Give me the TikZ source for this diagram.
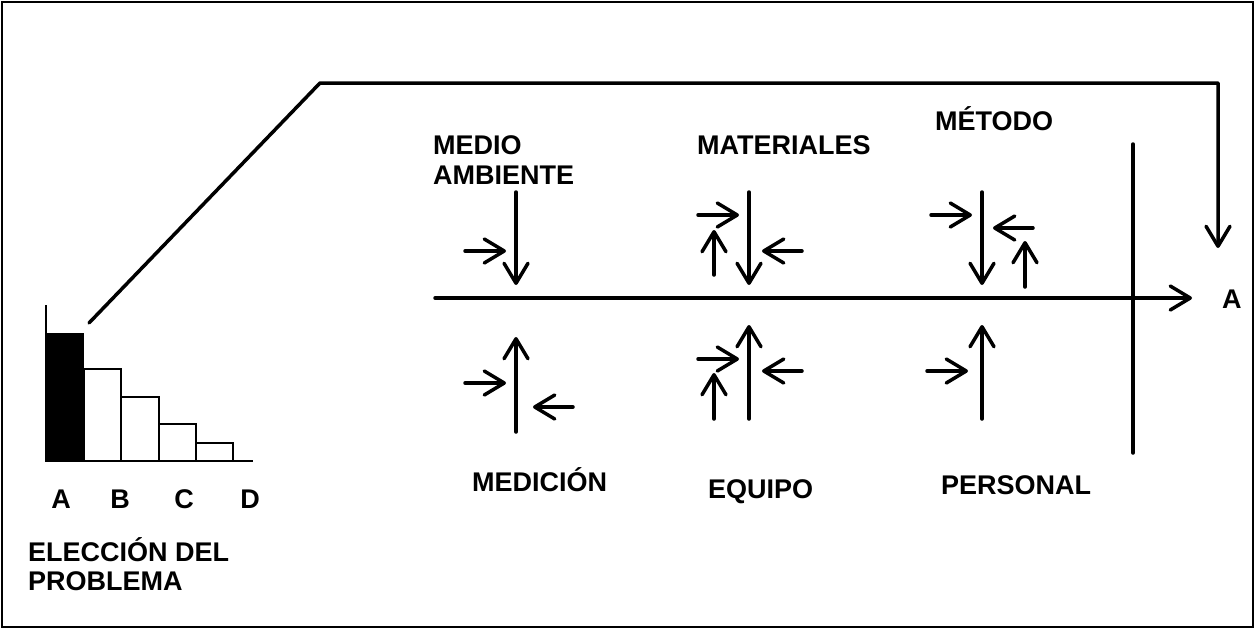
\documentclass[tikz,border=0pt]{standalone}
\usepackage{fontspec}
\setmainfont{Liberation Sans}
\usetikzlibrary{arrows.meta}
\begin{document}
\begin{tikzpicture}[x=1pt,y=-1pt,
  lbl/.style={inner sep=0pt,font=\fontsize{27}{30}\selectfont\bfseries},
  ln/.style={line width=3.5pt,line cap=round},
  arr/.style={ln,-{Straight Barb[length=20pt,width=24pt,round]}},
  bar/.style={line width=2.5pt}]
\useasboundingbox (0,0) rectangle (1257,629);
\draw[line width=1.8pt] (2,2) rectangle (1253,627);
% Pareto chart
\fill[black] (46,333) rectangle (84,461);
\draw[bar] (46,305) -- (46,461) -- (253,461);
\draw[bar] (84,461) |- (121,369) -- (121,461);
\draw[bar] (121,461) |- (159,397) -- (159,461);
\draw[bar] (159,461) |- (196,424) -- (196,461);
\draw[bar] (196,461) |- (233,443) -- (233,461);
\node[lbl,anchor=base] (la) at (61,508) {A};
\node[lbl,anchor=base] (lb) at (120,508) {B};
\node[lbl,anchor=base] (lc) at (184,508) {C};
\node[lbl,anchor=base] (ld) at (250,508) {D};
\node[lbl,anchor=base west] (el1) at (28,561) {ELECCIÓN DEL};
\node[lbl,anchor=base west] (el2) at (28,590) {PROBLEMA};
% feedback path
\coordinate (fb0) at (89,323);
\coordinate (fb1) at (320,83);
\coordinate (fb2) at (1218,83);
\coordinate (fb3) at (1218,248);
\draw[arr,line join=round] (fb0) -- (fb1) -- (fb2) -- (fb3);
% main spine
\coordinate (sp0) at (435,298);
\coordinate (sp1) at (1192,298);
\draw[arr] (sp0) -- (sp1);
\coordinate (vb0) at (1133,144);
\coordinate (vb1) at (1133,453);
\draw[ln] (vb0) -- (vb1);
\node[lbl,anchor=base west] (res) at (1222,308) {A};
% labels
\node[lbl,anchor=base west] (ma1) at (433,154) {MEDIO};
\node[lbl,anchor=base west] (ma2) at (433,184) {AMBIENTE};
\node[lbl,anchor=base west] (mat) at (697,154) {MATERIALES};
\node[lbl,anchor=base west] (met) at (935,130) {MÉTODO};
\node[lbl,anchor=base west] (med) at (472,491) {MEDICIÓN};
\node[lbl,anchor=base west] (equ) at (708,498) {EQUIPO};
\node[lbl,anchor=base west] (per) at (941,494) {PERSONAL};
% medio ambiente
\draw[arr] (516,192) coordinate (a1) -- (516,285) coordinate (a2);
\draw[arr] (465,251) coordinate (a3) -- (506,251) coordinate (a4);
% medicion
\draw[arr] (516,432) coordinate (b1) -- (516,337) coordinate (b2);
\draw[arr] (465,383) coordinate (b3) -- (506,383) coordinate (b4);
\draw[arr] (573,407) coordinate (b5) -- (533,407) coordinate (b6);
% materiales
\draw[arr] (749,192) coordinate (c1) -- (749,285) coordinate (c2);
\draw[arr] (698,215) coordinate (c3) -- (739,215) coordinate (c4);
\draw[arr] (714,275) coordinate (c5) -- (714,230) coordinate (c6);
\draw[arr] (802,251) coordinate (c7) -- (762,251) coordinate (c8);
% equipo
\draw[arr] (749,419) coordinate (d1) -- (749,325) coordinate (d2);
\draw[arr] (698,359) coordinate (d3) -- (739,359) coordinate (d4);
\draw[arr] (714,419) coordinate (d5) -- (714,373) coordinate (d6);
\draw[arr] (802,371) coordinate (d7) -- (762,371) coordinate (d8);
% metodo
\draw[arr] (982,192) coordinate (e1) -- (982,285) coordinate (e2);
\draw[arr] (931,215) coordinate (e3) -- (972,215) coordinate (e4);
\draw[arr] (1033,228) coordinate (e5) -- (993,228) coordinate (e6);
\draw[arr] (1025,287) coordinate (e7) -- (1025,241) coordinate (e8);
% personal
\draw[arr] (982,419) coordinate (f1) -- (982,325) coordinate (f2);
\draw[arr] (927,371) coordinate (f3) -- (968,371) coordinate (f4);
\end{tikzpicture}
\end{document}
